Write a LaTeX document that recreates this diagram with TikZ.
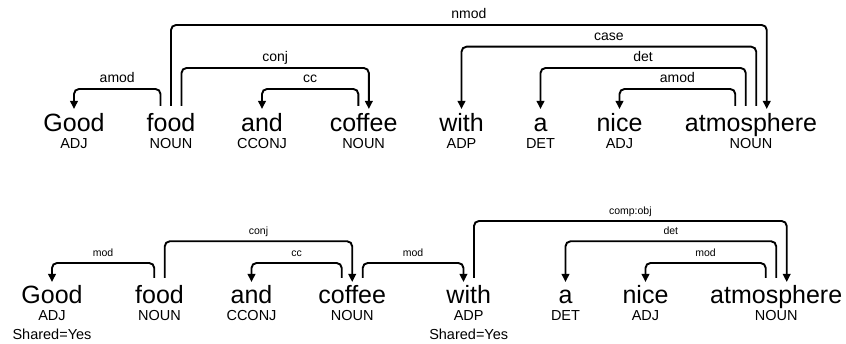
\documentclass[tikz,border=0pt]{standalone}
\usepackage{fontspec}
\setmainfont{Liberation Sans}
\usetikzlibrary{arrows.meta,calc,positioning}

% arc: [label style]{from}{from dx}{to}{to dx}{level}{label}
\newcommand{\deparc}[7][deplabel]{%
  \draw[dep] ([xshift=#3,yshift=\arcfoot]#2.base) -- ([xshift=#3,yshift=#6]#2.base)
    -| node[pos=0.25,#1]{#7} ([xshift=#5,yshift=\arctip]#4.base);}

\begin{document}
\begin{tikzpicture}
  [x=1pt,y=1pt,
   word/.style={anchor=base,inner sep=0pt,font=\fontsize{25}{30}\selectfont},
   postag/.style={anchor=base,inner sep=0pt,font=\fontsize{14.5}{17}\selectfont},
   dep/.style={line width=1.9pt,rounded corners=5pt,-{Triangle[length=8pt,width=7.5pt]}},
   deplabel/.style={anchor=base,inner sep=0pt,yshift=6.5pt,font=\fontsize{14}{16}\selectfont},
   smalllabel/.style={deplabel,font=\fontsize{10.5}{12}\selectfont}
  ]
  \useasboundingbox (0,0) rectangle (846,-344);

  % first parse
  \node[word] (good) at (74,-132) {Good};
  \node[word] (food) at (171,-132) {food};
  \node[word] (and) at (262,-132) {and};
  \node[word] (coffee) at (363.6,-132) {coffee};
  \node[word] (with) at (461.5,-132) {with};
  \node[word] (a) at (540.5,-132) {a};
  \node[word] (nice) at (619.5,-132) {nice};
  \node[word] (atmosphere) at (751,-132) {atmosphere};

  \node[postag] (goodpos) at ([yshift=-17]good.base) {ADJ};
  \node[postag] (foodpos) at ([yshift=-17]food.base) {NOUN};
  \node[postag] (andpos) at ([yshift=-17]and.base) {CCONJ};
  \node[postag] (coffeepos) at ([yshift=-17]coffee.base) {NOUN};
  \node[postag] (withpos) at ([yshift=-17]with.base) {ADP};
  \node[postag] (apos) at ([yshift=-17]a.base) {DET};
  \node[postag] (nicepos) at ([yshift=-17]nice.base) {ADJ};
  \node[postag] (atmospherepos) at ([yshift=-17]atmosphere.base) {NOUN};

  \def\arcfoot{26}\def\arctip{23}
  \deparc{food}{-10.5}{good}{0}{43}{amod}
  \deparc{food}{10.5}{coffee}{5.25}{64}{conj}
  \deparc{food}{0}{atmosphere}{15.75}{107}{nmod}
  \deparc{coffee}{-5.25}{and}{0}{43}{cc}
  \deparc{atmosphere}{5.25}{with}{0}{85.3}{case}
  \deparc{atmosphere}{-5.25}{a}{0}{64}{det}
  \deparc{atmosphere}{-15.75}{nice}{0}{43}{amod}

  % second parse
  \node[word] (goodlow) at (52,-303.7) {Good};
  \node[word] (foodlow) at (159.5,-303.7) {food};
  \node[word] (andlow) at (251.5,-303.7) {and};
  \node[word] (coffeelow) at (352.2,-303.7) {coffee};
  \node[word] (withlow) at (468.7,-303.7) {with};
  \node[word] (alow) at (565.5,-303.7) {a};
  \node[word] (nicelow) at (645.5,-303.7) {nice};
  \node[word] (atmospherelow) at (776.2,-303.7) {atmosphere};

  \node[postag] (goodlowpos) at ([yshift=-17.3]goodlow.base) {ADJ};
  \node[postag] (foodlowpos) at ([yshift=-17.3]foodlow.base) {NOUN};
  \node[postag] (andlowpos) at ([yshift=-17.3]andlow.base) {CCONJ};
  \node[postag] (coffeelowpos) at ([yshift=-17.3]coffeelow.base) {NOUN};
  \node[postag] (withlowpos) at ([yshift=-17.3]withlow.base) {ADP};
  \node[postag] (alowpos) at ([yshift=-17.3]alow.base) {DET};
  \node[postag] (nicelowpos) at ([yshift=-17.3]nicelow.base) {ADJ};
  \node[postag] (atmospherelowpos) at ([yshift=-17.3]atmospherelow.base) {NOUN};
  \node[postag] (goodlowfeat) at ([yshift=-19]goodlowpos.base) {Shared=Yes};
  \node[postag] (withlowfeat) at ([yshift=-19]withlowpos.base) {Shared=Yes};

  \def\arcfoot{25.7}\def\arctip{21.7}
  \deparc[smalllabel]{foodlow}{-5.25}{goodlow}{0}{40.7}{mod}
  \deparc[smalllabel]{foodlow}{5.25}{coffeelow}{0}{62.4}{conj}
  \deparc[smalllabel]{coffeelow}{-10.5}{andlow}{0}{40.7}{cc}
  \deparc[smalllabel]{coffeelow}{10.5}{withlow}{-5.25}{40.7}{mod}
  \deparc[smalllabel]{withlow}{5.25}{atmospherelow}{10.5}{82.7}{comp:obj}
  \deparc[smalllabel]{atmospherelow}{0}{alow}{0}{62.4}{det}
  \deparc[smalllabel]{atmospherelow}{-10.5}{nicelow}{0}{40.7}{mod}
\end{tikzpicture}
\end{document}
